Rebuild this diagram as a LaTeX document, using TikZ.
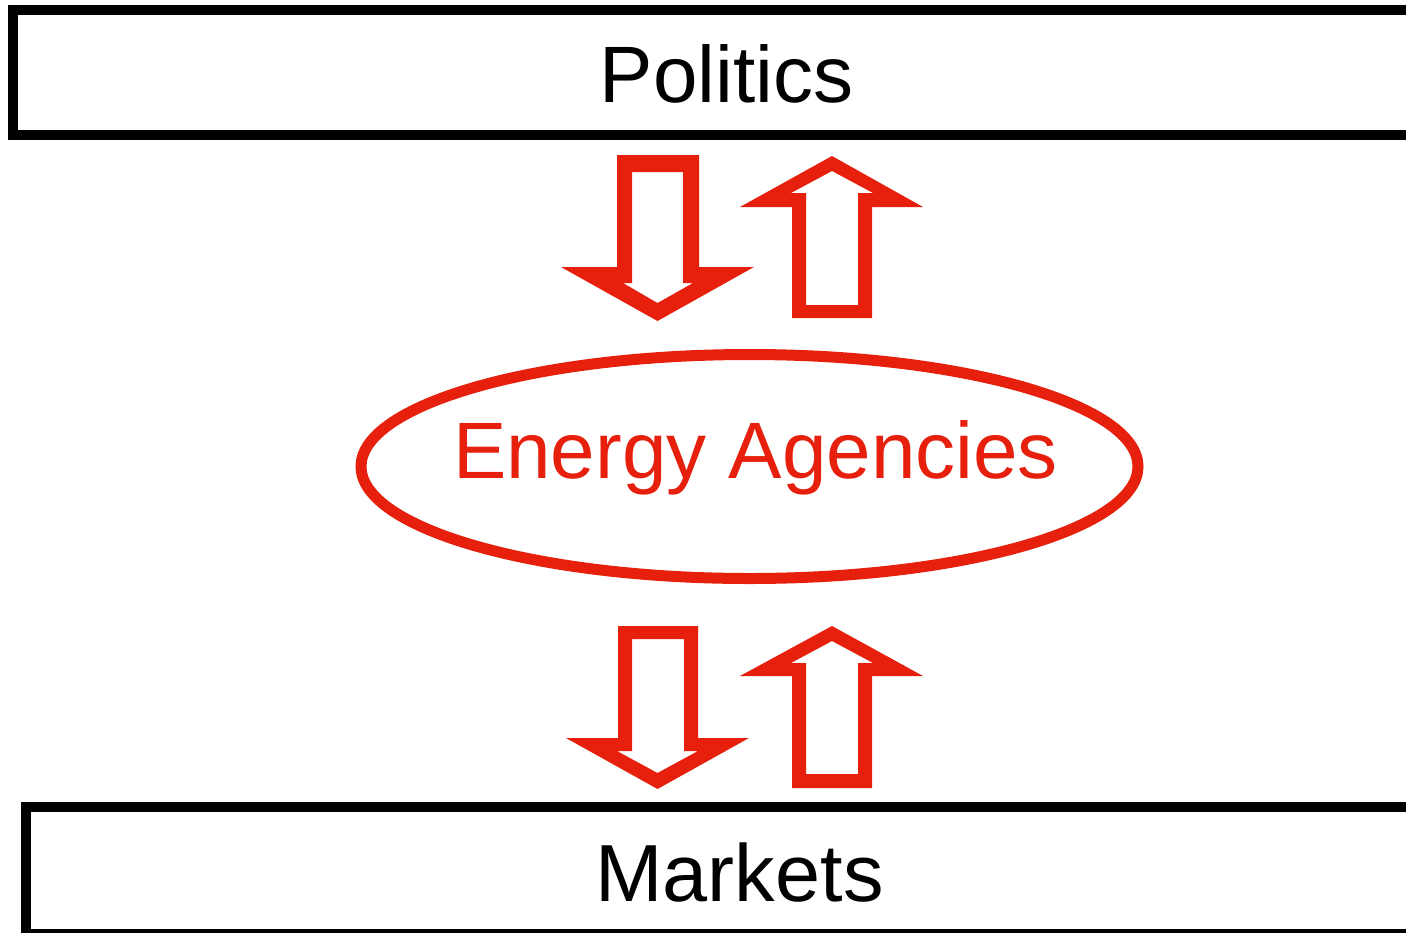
\documentclass[tikz,border=0pt]{standalone}
\usepackage{fontspec}
\setmainfont{Liberation Sans}
\definecolor{ared}{RGB}{230,32,12}
\begin{document}
\begin{tikzpicture}[x=1pt,y=-1pt,
  boxline/.style={draw=black,line width=10pt},
  arrowshape/.style={fill=ared,even odd rule,draw=none},
  lbl/.style={anchor=base,inner sep=0pt}]
\useasboundingbox (0,0) rectangle (1406,932);
\clip (0,0) rectangle (1406,932);
\fill[white] (0,0) rectangle (1406,932);
% boxes
\draw[boxline] (13,9.5) rectangle (1430,135);
\draw[boxline] (26,807) rectangle (1430,933.5);
\node[lbl,font=\fontsize{80}{96}\selectfont] (politics) at (726.5,102.7) {Politics};
\node[lbl,font=\fontsize{81}{97}\selectfont] (markets) at (739.5,901.5) {Markets};
% ellipse
\draw[ared,line width=11pt] (749.5,466.5) ellipse [x radius=388.5, y radius=112];
\node[lbl,text=ared,font=\fontsize{80}{96}\selectfont] (agencies) at (755.5,478) {Energy Agencies};
% upper down arrow
\path[arrowshape] (617,155) -- (699,155) -- (699,267) -- (754,267) -- (657.5,321) -- (561,267) -- (617,267) -- cycle
  (632,172) -- (683,172) -- (683,283) -- (693,283) -- (657.5,303) -- (623,283) -- (632,283) -- cycle;
% upper up arrow
\path[arrowshape] (832,156) -- (923,207) -- (872,207) -- (872,318) -- (792,318) -- (792,207) -- (740,207) -- cycle
  (832,171) -- (873,193) -- (858,193) -- (858,305) -- (806,305) -- (806,193) -- (791,193) -- cycle;
% lower down arrow
\path[arrowshape] (618,626) -- (698,626) -- (698,738) -- (749,738) -- (657.5,789) -- (566,738) -- (618,738) -- cycle
  (632,639) -- (684,639) -- (684,751) -- (698,751) -- (657.5,773) -- (617,751) -- (632,751) -- cycle;
% lower up arrow
\path[arrowshape] (832,626) -- (923,676) -- (872,676) -- (872,788) -- (792,788) -- (792,676) -- (740,676) -- cycle
  (832,641) -- (873,663) -- (858,663) -- (858,774) -- (806,774) -- (806,663) -- (791,663) -- cycle;
\end{tikzpicture}
\end{document}
